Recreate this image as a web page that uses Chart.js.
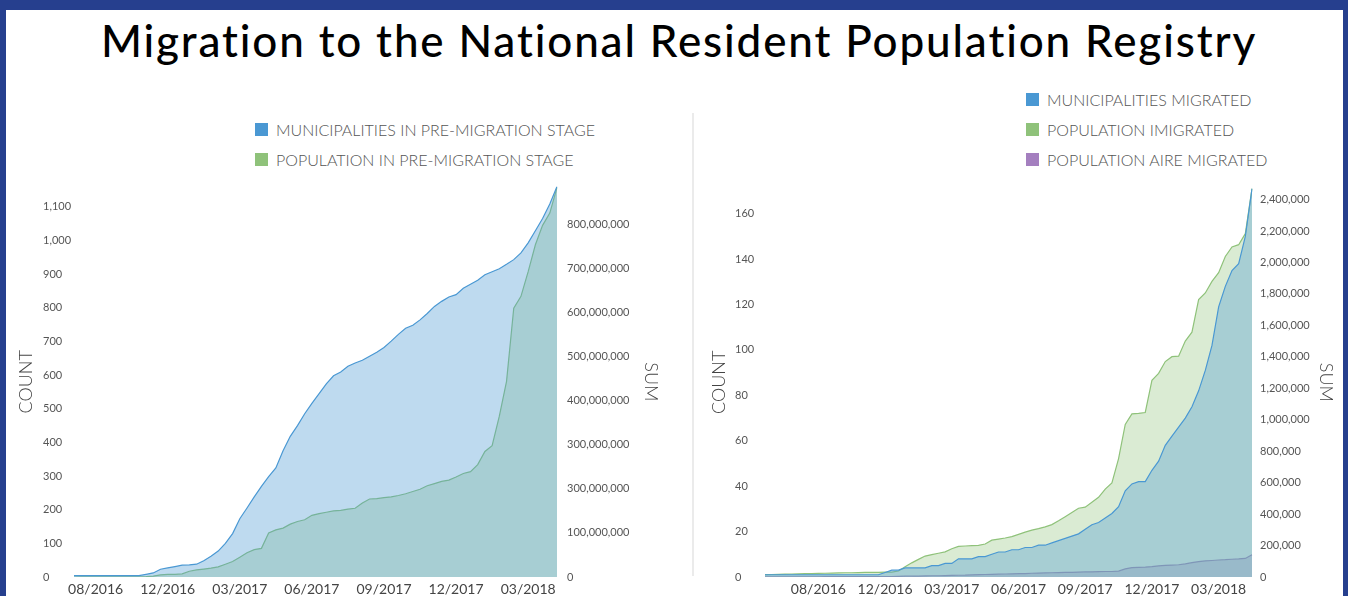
<!DOCTYPE html>
<html>
<head>
<meta charset="utf-8">
<script src="https://cdn.jsdelivr.net/npm/chart.js@4.4.1/dist/chart.umd.min.js"></script>
<style>
  html, body { margin: 0; padding: 0; background: #fff; }
  body { width: 1348px; height: 596px; position: relative; overflow: hidden; font-family: Lato, "Open Sans", sans-serif; }
  .frame { position: absolute; background: #263f8e; z-index: 5; }
  #fTop { left: 0; top: 0; width: 1348px; height: 10px; }
  #fLeft { left: 0; top: 0; width: 6px; height: 596px; }
  #fRight { right: 0; top: 0; width: 5px; height: 596px; }
  h1 { position: absolute; left: 5px; top: 18px; width: 1348px; margin: 0; text-align: center;
       font-family: Lato, sans-serif; font-weight: 500; font-size: 44px; line-height: 44px; color: #000; letter-spacing: 1.85px; }
  #sep { position: absolute; left: 692px; top: 113px; width: 2px; height: 463px; background: #ebebeb; }
  canvas { position: absolute; }
  #c1 { left: 0; top: 170px; }
  #c2 { left: 695px; top: 170px; }
  .legend { position: absolute; font-family: Lato, sans-serif; font-weight: 300; font-size: 16px; color: #555; }
  .legend .row { height: 30px; display: flex; align-items: center; white-space: nowrap; }
  .legend .sw { display: inline-block; width: 13px; height: 13px; margin-right: 8px; }
  #lg1 { left: 255px; top: 114px; }
  #lg2 { left: 1026px; top: 84px; }
</style>
</head>
<body>
<div class="frame" id="fTop"></div>
<div class="frame" id="fLeft"></div>
<div class="frame" id="fRight"></div>
<h1>Migration to the National Resident Population Registry</h1>
<div id="sep"></div>
<div class="legend" id="lg1"></div>
<div class="legend" id="lg2"></div>
<canvas id="c1" width="693" height="426"></canvas>
<canvas id="c2" width="653" height="426"></canvas>
<script>
// ---------- DATA ----------
const dateTickLabels = ['08/2016', '12/2016', '03/2017', '06/2017', '09/2017', '12/2017', '03/2018'];
const leftTickIndex  = [3, 13, 23, 33, 43, 53, 63];
const rightTickIndex = [8, 18, 28, 38, 48, 58, 68];

// Left chart: pre-migration stage
const municipalitiesPre = [
  4,4,4,4,4,4,4,4,4,4,
  8,12,23,27,31,35,36,38,48,62,
  77,100,129,173,205,238,269,298,324,375,
  418,450,485,516,545,574,598,609,626,636,
  644,656,668,682,701,721,739,748,764,783,
  804,819,832,839,858,870,882,898,907,916,
  929,943,963,993,1029,1065,1108,1160
];
const populationPreMillions = [
  0,0.5,0.5,0.5,0.5,0.5,0.5,0.5,0.5,0.5,
  1,2,5,6,6,7,13,16,18,20,
  23,29,35,45,55,62,65,100,107,111,
  120,126,130,140,144,147,150,151,154,156,
  168,177,178,180,182,185,189,194,199,207,
  212,217,220,227,235,239,255,285,298,365,
  444,610,637,693,754,798,826,884
];

// Right chart: migrated
const municipalitiesMigrated = [
  1,1,1,1,1,1,1,1,1,1,
  1,1,1,1,1,1,1,1,2,3,
  3,4,4,4,4,5,5,6,6,8,
  8,8,9,9,10,11,11,12,12,13,
  13,14,14,15,16,17,18,19,21,23,
  24,26,28,31,38,41,42,42,47,51,
  58,62,66,70,75,82,91,102,119,128,
  135,138,150,171
];
const populationMigratedThousands = [
  15,16,17,18,19,20,21,22,23,24,
  25,26,27,27,28,29,30,30,31,31,
  38,65,90,112,133,142,151,160,180,195,
  197,199,201,210,234,241,248,257,271,285,
  298,308,319,333,357,383,410,437,444,475,
  507,559,598,753,970,1037,1041,1046,1251,1295,
  1370,1401,1404,1500,1557,1764,1806,1880,1935,2038,
  2099,2113,2183,2470
];
const populationAireMigratedThousands = [
  1,1,1,1,1,1,1,1,1,2,
  2,2,2,2,2,2,2,2,2,3,
  4,5,5,6,7,8,8,9,10,11,
  12,14,15,16,17,18,19,20,21,22,
  24,25,26,27,28,29,30,31,32,33,
  34,35,35,37,52,59,61,63,66,71,
  74,76,78,84,91,98,102,105,108,110,
  113,115,118,142
];

// Axis tick labels
const leftCountTicks = ['0','100','200','300','400','500','600','700','800','900','1,000','1,100'];
const leftSumTicks = ['0','100,000,000','300,000,000','300,000,000','400,000,000','500,000,000','600,000,000','700,000,000','800,000,000'];
const rightCountTicks = ['0','20','40','60','80','100','120','140','160'];
const rightSumTicks = ['0','200,000','400,000','600,000','800,000','1,000,000','1,200,000','1,400,000','1,600,000','1,800,000','2,000,000','2,200,000','2,400,000'];

const leftLegend = ['MUNICIPALITIES IN PRE-MIGRATION STAGE', 'POPULATION IN PRE-MIGRATION STAGE'];
const rightLegend = ['MUNICIPALITIES MIGRATED', 'POPULATION IMIGRATED', 'POPULATION AIRE MIGRATED'];

// ---------- BUILD ----------
function buildCats(n, idx) {
  const cats = new Array(n).fill('');
  idx.forEach((p, k) => { cats[p] = dateTickLabels[k]; });
  return cats;
}
const leftCats = buildCats(municipalitiesPre.length, leftTickIndex);
const rightCats = buildCats(municipalitiesMigrated.length, rightTickIndex);

const BLUE = '#4a98d3', BLUE_FILL = 'rgba(74,152,211,0.36)';
const GREEN = '#8fc27a', GREEN_FILL = 'rgba(143,194,122,0.33)';
const PURPLE = '#a47fbf', PURPLE_FILL = 'rgba(164,127,191,0.35)';

Chart.defaults.font.family = 'Lato, sans-serif';
Chart.defaults.color = '#555';

function ds(label, data, axis, color, fill) {
  return { label, data, yAxisID: axis, borderColor: color, backgroundColor: fill, fill: 'origin',
           borderWidth: 1.2, pointRadius: 0, pointHoverRadius: 0, tension: 0 };
}
function xAxis(cats) {
  return {
    grid: { display: false, drawTicks: false }, border: { display: false },
    ticks: { autoSkip: false, maxRotation: 0, minRotation: 0, padding: 4, color: '#444',
             font: { size: 14 }, callback: (v, i) => cats[i] },
    afterFit: s => { s.height = 19; }
  };
}
function titleFont() { return { size: 18, weight: '300' }; }
function yAxis(pos, max, step, limit, labels, pad, align, width, title) {
  const axis = {
    position: pos, min: 0, max: max,
    grid: { display: false, drawTicks: false }, border: { display: false },
    ticks: { stepSize: step, includeBounds: false, padding: pad, crossAlign: align, color: '#555', font: { size: 11 },
             callback: v => labels[Math.round(v / step)] },
    afterBuildTicks: s => { s.ticks = s.ticks.filter(t => t.value <= limit + 1e-9); },
    afterFit: s => { s.width = width; }
  };
  if (title) axis.title = { display: true, text: title, padding: 0, color: '#444', font: titleFont() };
  return axis;
}
// an axis that only carries a title (kept outside the tick labels)
function titleAxis(pos, width, title) {
  return {
    position: pos, weight: 10, min: 0, max: 1, display: true,
    grid: { display: false, drawTicks: false }, border: { display: false },
    ticks: { display: false },
    title: { display: true, text: title, padding: 0, color: '#444', font: titleFont() },
    afterFit: s => { s.width = width; }
  };
}

const leftChart = new Chart(document.getElementById('c1'), {
  type: 'line',
  data: {
    labels: leftCats,
    datasets: [
      ds(leftLegend[0], municipalitiesPre, 'yCount', BLUE, BLUE_FILL),
      ds(leftLegend[1], populationPreMillions, 'ySum', GREEN, GREEN_FILL)
    ]
  },
  options: {
    responsive: false, animation: false,
    layout: { padding: { left: 15, top: 16, right: 31, bottom: 0 } },
    plugins: { legend: { display: false }, tooltip: { enabled: false } },
    scales: {
      x: xAxis(leftCats),
      yCountTitle: titleAxis('left', 28, 'COUNT'),
      yCount: yAxis('left', 1160, 100, 1100, leftCountTicks, 3, 'far', 31, null),
      ySum: yAxis('right', 886, 100, 800, leftSumTicks, 10, 'near', 105, 'SUM')
    }
  }
});

const rightChart = new Chart(document.getElementById('c2'), {
  type: 'line',
  data: {
    labels: rightCats,
    datasets: [
      ds(rightLegend[0], municipalitiesMigrated, 'yCount', BLUE, BLUE_FILL),
      ds(rightLegend[1], populationMigratedThousands, 'ySum', GREEN, GREEN_FILL),
      ds(rightLegend[2], populationAireMigratedThousands, 'ySum', PURPLE, PURPLE_FILL)
    ]
  },
  options: {
    responsive: false, animation: false,
    layout: { padding: { left: 13, top: 16, right: 11, bottom: 0 } },
    plugins: { legend: { display: false }, tooltip: { enabled: false } },
    scales: {
      x: xAxis(rightCats),
      yCountTitle: titleAxis('left', 27, 'COUNT'),
      yCount: yAxis('left', 171.5, 20, 160, rightCountTicks, 11, 'far', 30, null),
      ySum: yAxis('right', 2476, 200, 2400, rightSumTicks, 8, 'near', 85, 'SUM')
    }
  }
});

function htmlLegend(chart, el) {
  chart.data.datasets.forEach(d => {
    const row = document.createElement('div'); row.className = 'row';
    const sw = document.createElement('span'); sw.className = 'sw'; sw.style.background = d.borderColor;
    const tx = document.createElement('span'); tx.textContent = d.label;
    row.appendChild(sw); row.appendChild(tx); el.appendChild(row);
  });
}
htmlLegend(leftChart, document.getElementById('lg1'));
htmlLegend(rightChart, document.getElementById('lg2'));
</script>
</body>
</html>
